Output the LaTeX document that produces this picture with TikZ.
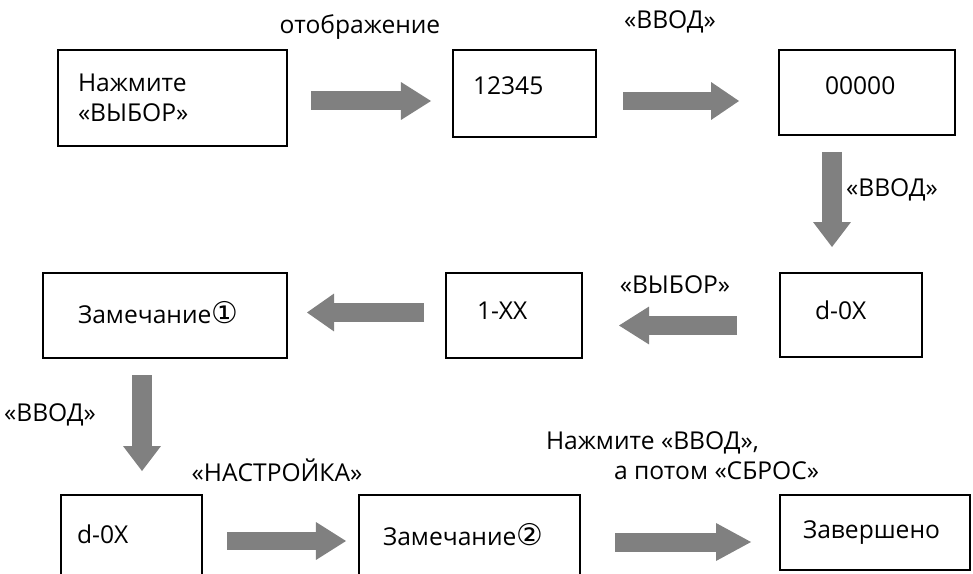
\documentclass[tikz,border=0pt]{standalone}
\usepackage{fontspec}
\setmainfont{Open Sans}
\newfontfamily\symfont{DejaVu Sans}
\usetikzlibrary{arrows.meta}
\newdimen\pxu
\pxu=0.02cm
\newcommand{\circnum}[1]{{\symfont\fontsize{17}{17}\selectfont #1}}
\tikzset{
every picture/.style={
line width=2\pxu
}}

\begin{document}
\begin{tikzpicture}[x=1\pxu, y=-1\pxu, font=\fontsize{14}{17}\selectfont,
block/.style = {rectangle, draw=black, inner sep=0pt, align=left},
bigarrow/.style = {draw=gray, line width=19\pxu, -{Triangle[length=#1, width=21.6pt, line width=0pt]}},
bigarrow/.default = 17.1pt]
\useasboundingbox (0,0) rectangle (973,574);
\clip (0,0) rectangle (973,574);

\node [block, minimum width=229\pxu, minimum height=96\pxu, text width=189\pxu] at (172.5,98) (press) {Нажмите\\«ВЫБОР»};
\node [block, minimum width=143\pxu, minimum height=87\pxu, text width=103\pxu, text depth=16\pxu] at (524.5,93.5) (code) {12345};
\node [block, minimum width=176\pxu, minimum height=85\pxu, text width=84\pxu, text depth=14\pxu] at (867,92.5) (zero) {00000};
\node [block, minimum width=142\pxu, minimum height=84\pxu, text width=72\pxu, text depth=10\pxu] at (851,315) (dsel) {d-0X};
\node [block, minimum width=136\pxu, minimum height=85\pxu, text width=74\pxu, text depth=10\pxu] at (514,315.5) (item) {1-XX};
\node [block, minimum width=244\pxu, minimum height=85\pxu, text width=174\pxu, text depth=6\pxu] at (165,315.5) (note1) {Замечание\circnum{①}};
\node [block, minimum width=141\pxu, minimum height=85\pxu, text width=109\pxu, text depth=6\pxu] at (131.5,537.5) (dset) {d-0X};
\node [block, minimum width=221\pxu, minimum height=85\pxu, text width=173\pxu, text depth=6\pxu] at (469.5,537.5) (note2) {Замечание\circnum{②}};
\node [block, minimum width=190\pxu, minimum height=75\pxu, text width=144\pxu] at (875,532.5) (done) {Завершено};

\node at (360,27) (show) {отображение};
\node at (670,22) (enter1) {«ВВОД»};
\node at (892,190) (enter2) {«ВВОД»};
\node at (675,285) (select) {«ВЫБОР»};
\node at (50,415) (enter3) {«ВВОД»};
\node at (277,470) (setup) {«НАСТРОЙКА»};
\node [anchor=west, inner sep=0pt, align=left] at (545,456) (reset) {Нажмите «ВВОД»,\\\hspace*{68\pxu}а потом «СБРОС»};

\draw [bigarrow, shorten <=23\pxu, shorten >=21\pxu] (press.east |- 0,101) -- (code.west |- 0,101);
\draw [bigarrow=15.9pt, line width=18\pxu, shorten <=26\pxu, shorten >=39\pxu] (code.east |- 0,101) -- (zero.west |- 0,101);
\draw [bigarrow=14.2pt, line width=20\pxu, shorten <=16\pxu, shorten >=25\pxu] (zero.south -| 832,0) -- (dsel.north -| 832,0);
\draw [bigarrow, shorten <=42\pxu, shorten >=36\pxu] (dsel.west |- 0,325.5) -- (item.east |- 0,325.5);
\draw [bigarrow=15.4pt, shorten <=21\pxu, shorten >=19\pxu] (item.west |- 0,312.5) -- (note1.east |- 0,312.5);
\draw [bigarrow=14.2pt, line width=20\pxu, shorten <=16\pxu, shorten >=23\pxu] (note1.south -| 142,0) -- (dset.north -| 142,0);
\draw [bigarrow, line width=18\pxu, shorten <=24\pxu, shorten >=12\pxu] (dset.east |- 0,541) -- (note2.west |- 0,541);
\draw [bigarrow=19.9pt, shorten <=34\pxu, shorten >=28\pxu] (note2.east |- 0,542) -- (done.west |- 0,542);

\end{tikzpicture}
\end{document}
